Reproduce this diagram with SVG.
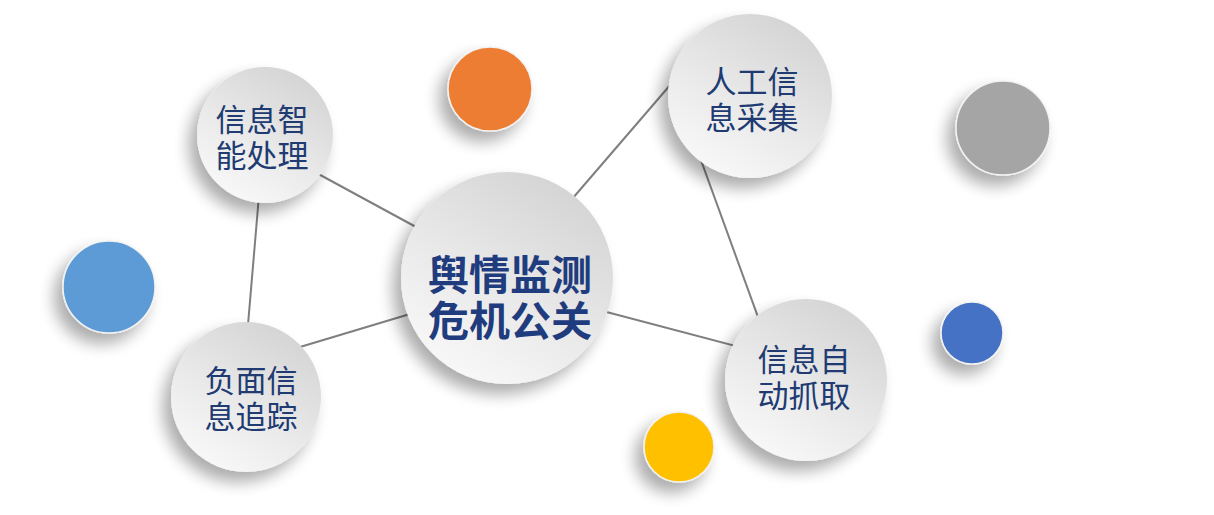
<svg xmlns="http://www.w3.org/2000/svg" width="1214" height="515" viewBox="0 0 1214 515">
<defs>
<linearGradient id="g" x1="0.8" y1="0" x2="0.2" y2="1">
<stop offset="0" stop-color="#d2d2d2"/>
<stop offset="0.55" stop-color="#e9e9e9"/>
<stop offset="1" stop-color="#fafafa"/>
</linearGradient>
<filter id="sh" x="-40%" y="-40%" width="180%" height="180%">
<feGaussianBlur in="SourceAlpha" stdDeviation="8"/>
<feOffset dx="-8" dy="10" result="b"/>
<feComponentTransfer><feFuncA type="linear" slope="0.33"/></feComponentTransfer>
<feMerge><feMergeNode/><feMergeNode in="SourceGraphic"/></feMerge>
</filter>
</defs>
<style>
.node{fill:url(#g);filter:url(#sh);}
.dot{filter:url(#sh);stroke:#f2f2f2;stroke-width:1.5;}
.lbl{font-family:"Liberation Sans","Noto Sans CJK SC",sans-serif;font-size:31px;fill:#203a72;text-anchor:middle;}
.main{font-family:"Liberation Sans","Noto Sans CJK SC",sans-serif;font-size:41px;font-weight:bold;fill:#1f3c7e;text-anchor:middle;}
.conn line{stroke:#7f7f7f;stroke-width:2;}
</style>
<rect width="1214" height="515" fill="#ffffff"/>
<g id="connectors" class="conn">
<line x1="300" y1="164" x2="440" y2="240"/>
<line x1="262" y1="160" x2="245" y2="360"/>
<line x1="270" y1="356" x2="440" y2="305"/>
<line x1="560" y1="213" x2="690" y2="62"/>
<line x1="690" y1="130" x2="770" y2="350"/>
<line x1="580" y1="305" x2="770" y2="355"/>
</g>
<g id="dot-orange"><circle class="dot" cx="490" cy="89" r="42" fill="#ed7d31"/></g>
<g id="dot-gray"><circle class="dot" cx="1003" cy="128" r="47" fill="#a5a5a5"/></g>
<g id="dot-lightblue"><circle class="dot" cx="109" cy="287" r="46" fill="#5b9bd5"/></g>
<g id="dot-blue"><circle class="dot" cx="972" cy="333" r="31" fill="#4472c4"/></g>
<g id="dot-yellow"><circle class="dot" cx="679" cy="447" r="35" fill="#ffc000"/></g>
<g id="node-center">
<circle class="node" cx="507" cy="278" r="106"/>
<text class="main"><tspan x="510" y="290">舆情监测</tspan><tspan x="510" y="336">危机公关</tspan></text>
</g>
<g id="node-process">
<circle class="node" cx="265" cy="135" r="68"/>
<text class="lbl"><tspan x="262" y="131">信息智</tspan><tspan x="262" y="167">能处理</tspan></text>
</g>
<g id="node-manual">
<circle class="node" cx="750" cy="96" r="82"/>
<text class="lbl"><tspan x="752" y="93">人工信</tspan><tspan x="752" y="129">息采集</tspan></text>
</g>
<g id="node-auto">
<circle class="node" cx="806" cy="380" r="81"/>
<text class="lbl"><tspan x="804" y="371">信息自</tspan><tspan x="804" y="407">动抓取</tspan></text>
</g>
<g id="node-track">
<circle class="node" cx="246" cy="397" r="75"/>
<text class="lbl"><tspan x="251" y="392">负面信</tspan><tspan x="251" y="428">息追踪</tspan></text>
</g>
</svg>
